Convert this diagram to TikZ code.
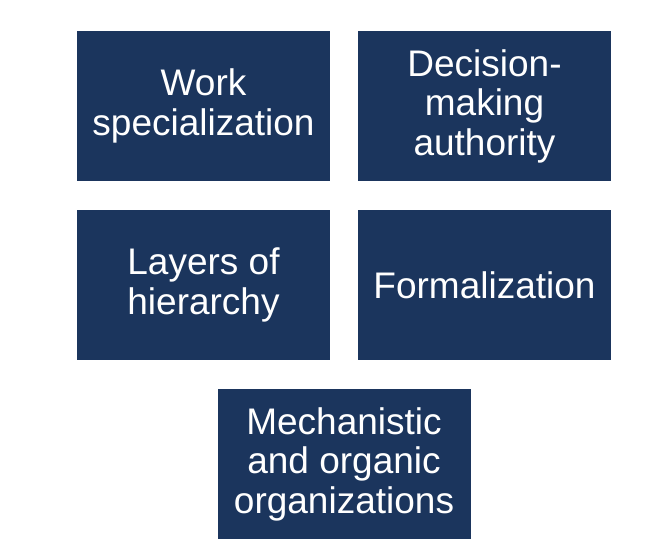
\documentclass[tikz,border=0pt]{standalone}
\usepackage{fontspec}
\setmainfont{Liberation Sans}
\definecolor{navy}{HTML}{1B355D}
\tikzset{
  topic/.style={fill=navy, text=white, minimum width=253pt, minimum height=150pt,
    inner sep=0pt, align=center, font=\fontsize{37}{39.5}\selectfont}
}
\begin{document}
\begin{tikzpicture}[x=1pt,y=-1pt]
\useasboundingbox (0,0) rectangle (666,552);
\path node[topic] (work) at (203.5,106) {Work\\specialization}
node[topic] (decision) at (484.5,106) {Decision-\\making\\authority}
node[topic] (layers) at (203.5,285) {Layers of\\hierarchy}
node[topic] (formal) at (484.5,285) {Formalization}
node[topic] (mech) at (344,464) {Mechanistic\\and organic\\organizations}
;
\end{tikzpicture}
\end{document}
